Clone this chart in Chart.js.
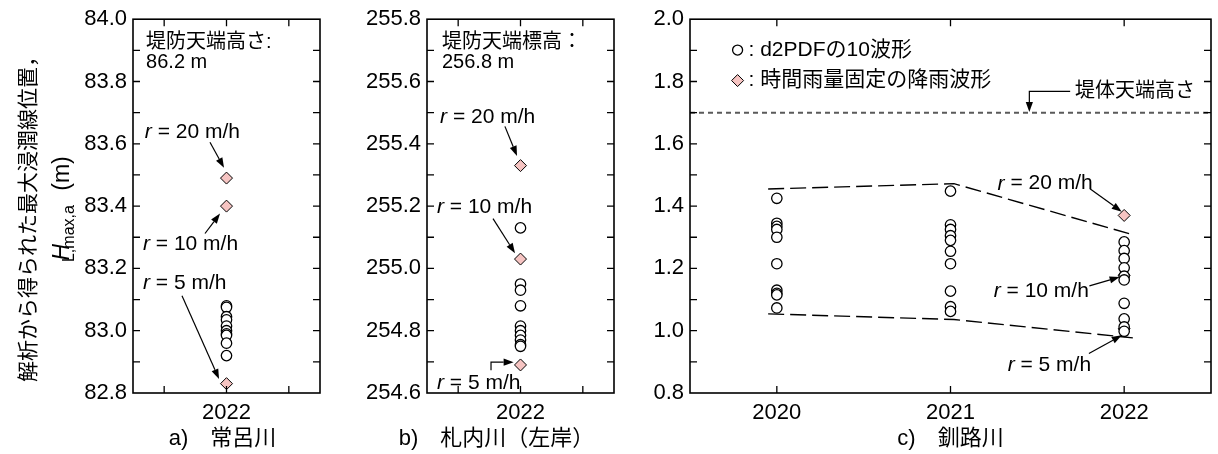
<!DOCTYPE html>
<html lang="ja">
<head>
<meta charset="UTF-8">
<title>解析から得られた最大浸潤線位置</title>
<script src="https://cdn.jsdelivr.net/npm/chart.js"></script>
<style>
  body { margin: 0; background: #fff; }
  #wrap { position: relative; width: 1218px; height: 454px; }
  .panel { position: absolute; top: 0; height: 454px; }
  #pa { left: 0; width: 340px; }
  #pb { left: 340px; width: 290px; }
  #pc { left: 630px; width: 588px; }
</style>
</head>
<body>
<div id="wrap">
  <div class="panel" id="pa"><canvas id="chartA"></canvas></div>
  <div class="panel" id="pb"><canvas id="chartB"></canvas></div>
  <div class="panel" id="pc"><canvas id="chartC"></canvas></div>
</div>

<script>
// ---------- data ----------
const xTicksAB = [2021, 2022, 2023];
const xLabelsAB = [2022];
const xTicksC = [2020, 2021, 2022];
const xLabelsC = [2020, 2021, 2022];

// a) 常呂川
const yearA = 2022;
const d2pdfA = [83.08, 83.075, 83.045, 83.035, 83.015, 83.0, 82.99, 82.985, 82.96, 82.92];
const fixedA = [83.49, 83.40, 82.83];          // r = 20, 10, 5 m/h

// b) 札内川（左岸）
const yearB = 2022;
const d2pdfB = [255.13, 254.95, 254.93, 254.88, 254.815, 254.80, 254.785, 254.77, 254.755, 254.75];
const fixedB = [255.33, 255.03, 254.69];

// c) 釧路川
const d2pdfC2020 = [1.425, 1.345, 1.335, 1.325, 1.300, 1.215, 1.130, 1.120, 1.115, 1.073];
const d2pdfC2021 = [1.448, 1.340, 1.325, 1.305, 1.290, 1.255, 1.215, 1.127, 1.077, 1.062];
const d2pdfC2022 = [1.285, 1.257, 1.232, 1.202, 1.175, 1.163, 1.088, 1.038, 1.012, 0.998];
const fixedC = [1.37, 1.178, 1.006];
const envYearsC = [2019.95, 2021.02, 2022.05];
const envUpperC = [1.455, 1.472, 1.308];
const envLowerC = [1.054, 1.036, 0.977];
const crestC = 1.7;

// ---------- styles ----------
const LATIN = '"Liberation Sans", Arial, "Noto Sans CJK JP", sans-serif';
const JP = '"Noto Sans CJK JP", "Liberation Sans", sans-serif';
const PINK = '#f6c4c2';

const circleStyle = { pointStyle: 'circle', pointRadius: 5.2, backgroundColor: '#fff', borderColor: '#000', borderWidth: 1.3 };
const diamondStyle = { pointStyle: 'rectRot', pointRadius: 6, backgroundColor: PINK, borderColor: '#000', borderWidth: 1 };

const pts = (x, ys) => ys.map((y, i) => ({ x: Array.isArray(x) ? x[i] : x, y }));
const rLabel = n => [['r', true], [' = ' + n + ' m/h', false]];

// ---------- drawing helpers ----------
function rich(ctx, x, y, parts, size) {
  let cx = x;
  parts.forEach(p => {
    ctx.font = (p[1] ? 'italic ' : '') + size + 'px ' + LATIN;
    ctx.fillText(p[0], cx, y);
    cx += ctx.measureText(p[0]).width;
  });
}

function arrow(ctx, p) {
  const n = p.length;
  const [x1, y1] = p[n - 2], [x2, y2] = p[n - 1];
  const a = Math.atan2(y2 - y1, x2 - x1);
  const hl = 10, hw = 3.6;
  const bx = x2 - hl * Math.cos(a), by = y2 - hl * Math.sin(a);
  ctx.beginPath();
  ctx.moveTo(p[0][0], p[0][1]);
  for (let i = 1; i < n - 1; i++) ctx.lineTo(p[i][0], p[i][1]);
  ctx.lineTo(bx, by);
  ctx.stroke();
  ctx.beginPath();
  ctx.moveTo(x2, y2);
  ctx.lineTo(bx + hw * Math.sin(a), by - hw * Math.cos(a));
  ctx.lineTo(bx - hw * Math.sin(a), by + hw * Math.cos(a));
  ctx.closePath();
  ctx.fill();
}

function drawYTitle(ctx) {
  ctx.save();
  ctx.translate(27, 214);
  ctx.rotate(-Math.PI / 2);
  ctx.font = '21px ' + JP;
  ctx.textAlign = 'center';
  ctx.textBaseline = 'middle';
  ctx.fillText('解析から得られた最大浸潤線位置，', 0, 0);
  ctx.restore();

  // H_{L,max,a} (m): [text, font, baseline shift, gap after]
  const parts = [['H', 'italic 23px', 0, 2], ['L,max,a', '16px', 5, 0], [' (m)', '23px', 0, 0]];
  ctx.save();
  ctx.translate(69, 194);
  ctx.rotate(-Math.PI / 2);
  ctx.textBaseline = 'alphabetic';
  let w = 0;
  parts.forEach(p => { ctx.font = p[1] + ' ' + LATIN; w += ctx.measureText(p[0]).width + p[3]; });
  let cx = -w / 2;
  parts.forEach(p => {
    ctx.font = p[1] + ' ' + LATIN;
    ctx.fillText(p[0], cx, p[2]);
    cx += ctx.measureText(p[0]).width + p[3];
  });
  ctx.restore();
}

// frame with inward ticks, notes, arrows, caption
function decor(cfg) {
  return {
    id: 'decor',
    afterDatasetsDraw(chart) {
      const { ctx, chartArea: a } = chart;
      const sx = chart.scales.x, sy = chart.scales.y;
      const px = v => sx.getPixelForValue(v), py = v => sy.getPixelForValue(v);
      const T = 7;
      ctx.save();
      ctx.strokeStyle = '#000';
      ctx.fillStyle = '#000';

      ctx.lineWidth = 1.6;
      ctx.strokeRect(a.left, a.top, a.right - a.left, a.bottom - a.top);
      ctx.lineWidth = 1.3;
      ctx.beginPath();
      sy.ticks.forEach(t => {
        const y = py(t.value);
        if (y <= a.top + 1 || y >= a.bottom - 1) return;
        ctx.moveTo(a.left, y); ctx.lineTo(a.left + T, y);
        ctx.moveTo(a.right, y); ctx.lineTo(a.right - T, y);
      });
      sx.ticks.forEach(t => {
        const x = px(t.value);
        ctx.moveTo(x, a.bottom); ctx.lineTo(x, a.bottom - T);
        ctx.moveTo(x, a.top); ctx.lineTo(x, a.top + T);
      });
      ctx.stroke();

      ctx.textAlign = 'left';
      ctx.textBaseline = 'middle';
      (cfg.notes || []).forEach(n => rich(ctx, px(n.x), py(n.y), n.parts, n.size || 21));

      ctx.lineWidth = 1.2;
      (cfg.arrows || []).forEach(ar => arrow(ctx, ar.map(p => [px(p[0]), py(p[1])])));

      if (cfg.legend) {
        const L = cfg.legend;
        ctx.lineWidth = 1.3;
        ctx.beginPath();
        ctx.arc(px(L.x), py(L.y1), 5, 0, Math.PI * 2);
        ctx.fillStyle = '#fff'; ctx.fill(); ctx.stroke();
        const dx = px(L.x), dy = py(L.y2), r = 6;
        ctx.beginPath();
        ctx.moveTo(dx - r, dy); ctx.lineTo(dx, dy - r); ctx.lineTo(dx + r, dy); ctx.lineTo(dx, dy + r);
        ctx.closePath();
        ctx.fillStyle = PINK; ctx.fill(); ctx.lineWidth = 1; ctx.stroke();
        ctx.fillStyle = '#000';
        rich(ctx, px(L.tx), py(L.y1), [[L.t1, false]], 21);
        rich(ctx, px(L.tx), py(L.y2), [[L.t2, false]], 21);
      }

      if (cfg.caption) {
        ctx.font = '22px ' + LATIN;
        ctx.textAlign = 'center';
        ctx.fillText(cfg.caption.text, (a.left + a.right) / 2 + cfg.caption.dx, 439);
      }
      if (cfg.yTitle) drawYTitle(ctx);
      ctx.restore();
    }
  };
}

function panel(id, o) {
  return new Chart(document.getElementById(id), {
    type: 'scatter',
    data: { datasets: o.datasets },
    options: {
      responsive: true,
      maintainAspectRatio: false,
      animation: false,
      events: [],
      layout: { padding: o.pad },
      plugins: { legend: { display: false }, tooltip: { enabled: false } },
      scales: {
        x: {
          min: o.xMin, max: o.xMax,
          afterBuildTicks: s => { s.ticks = o.xTicks.map(v => ({ value: v })); },
          afterFit: s => { s.height = 61; },
          grid: { display: false, drawTicks: false },
          border: { display: false },
          ticks: {
            autoSkip: false, maxRotation: 0, padding: 7, color: '#000',
            font: { family: LATIN, size: 22 },
            callback: v => o.xLabels.includes(v) ? String(v) : ''
          }
        },
        y: {
          min: o.yMin, max: o.yMax,
          afterFit: s => { s.width = o.yWidth; },
          grid: { display: false, drawTicks: false },
          border: { display: false },
          ticks: {
            stepSize: 0.1, autoSkip: false, padding: 6, color: '#000',
            font: { family: LATIN, size: 22 },
            callback: v => Math.round(v * 10) % 2 === 0 ? v.toFixed(1) : ''
          }
        }
      }
    },
    plugins: [decor(o.decor)]
  });
}

// a) 常呂川
panel('chartA', {
  pad: { left: 0, right: 20, top: 16, bottom: 0 },
  yWidth: 133, yMin: 82.8, yMax: 84.0,
  xMin: 2020.5, xMax: 2023.5, xTicks: xTicksAB, xLabels: xLabelsAB,
  datasets: [
    { data: pts(yearA, d2pdfA), ...circleStyle },
    { data: pts(yearA, fixedA), ...diamondStyle }
  ],
  decor: {
    yTitle: true,
    caption: { text: 'a)\u3000常呂川', dx: -4 },
    notes: [
      { x: 2020.71, y: 83.924, parts: [['堤防天端高さ:', false]], size: 20 },
      { x: 2020.71, y: 83.860, parts: [['86.2 m', false]], size: 20 },
      { x: 2020.69, y: 83.637, parts: rLabel('20') },
      { x: 2020.66, y: 83.277, parts: rLabel('10') },
      { x: 2020.66, y: 83.153, parts: rLabel('5') }
    ],
    arrows: [
      [[2021.735, 83.605], [2021.96, 83.523]],
      [[2021.655, 83.312], [2021.896, 83.376]],
      [[2021.286, 83.112], [2021.88, 82.845]]
    ]
  }
});

// b) 札内川（左岸）
panel('chartB', {
  pad: { left: 0, right: 16, top: 16, bottom: 0 },
  yWidth: 87, yMin: 254.6, yMax: 255.8,
  xMin: 2020.5, xMax: 2023.5, xTicks: xTicksAB, xLabels: xLabelsAB,
  datasets: [
    { data: pts(yearB, d2pdfB), ...circleStyle },
    { data: pts(yearB, fixedB), ...diamondStyle }
  ],
  decor: {
    caption: { text: 'b)\u3000札内川（左岸）', dx: -24 },
    notes: [
      { x: 2020.74, y: 255.725, parts: [['堤防天端標高：', false]], size: 20 },
      { x: 2020.74, y: 255.66, parts: [['256.8 m', false]], size: 20 },
      { x: 2020.71, y: 255.486, parts: rLabel('20') },
      { x: 2020.66, y: 255.198, parts: rLabel('10') },
      { x: 2020.66, y: 254.633, parts: rLabel('5') }
    ],
    arrows: [
      [[2021.75, 255.456], [2021.944, 255.361]],
      [[2021.559, 255.16], [2021.912, 255.049]],
      [[2021.527, 254.673], [2021.527, 254.699], [2021.89, 254.699]]
    ]
  }
});

// c) 釧路川
panel('chartC', {
  pad: { left: 0, right: 3, top: 16, bottom: 0 },
  yWidth: 60, yMin: 0.8, yMax: 2.0,
  xMin: 2019.5, xMax: 2022.5, xTicks: xTicksC, xLabels: xLabelsC,
  datasets: [
    { data: [{ x: 2019.5, y: crestC }, { x: 2022.5, y: crestC }], showLine: true, pointRadius: 0,
      borderColor: '#5a5a5a', borderWidth: 2, borderDash: [5, 4] },
    { data: pts(envYearsC, envUpperC), showLine: true, pointRadius: 0,
      borderColor: '#000', borderWidth: 1.4, borderDash: [16, 6] },
    { data: pts(envYearsC, envLowerC), showLine: true, pointRadius: 0,
      borderColor: '#000', borderWidth: 1.4, borderDash: [16, 6] },
    { data: [...pts(2020, d2pdfC2020), ...pts(2021, d2pdfC2021), ...pts(2022, d2pdfC2022)], ...circleStyle },
    { data: pts(2022, fixedC), ...diamondStyle }
  ],
  decor: {
    caption: { text: 'c)\u3000釧路川', dx: 0 },
    legend: { x: 2019.774, tx: 2019.837, y1: 1.901, y2: 1.803,
              t1: ': d2PDFの10波形', t2: ': 時間雨量固定の降雨波形' },
    notes: [
      { x: 2021.717, y: 1.768, parts: [['堤体天端高さ', false]], size: 20 },
      { x: 2021.271, y: 1.472, parts: rLabel('20') },
      { x: 2021.249, y: 1.128, parts: rLabel('10') },
      { x: 2021.329, y: 0.889, parts: rLabel('5') }
    ],
    arrows: [
      [[2021.689, 1.768], [2021.454, 1.768], [2021.454, 1.702]],
      [[2021.803, 1.456], [2021.986, 1.382]],
      [[2021.80, 1.144], [2021.974, 1.172]],
      [[2021.797, 0.927], [2021.986, 0.985]]
    ]
  }
});
</script>
</body>
</html>
